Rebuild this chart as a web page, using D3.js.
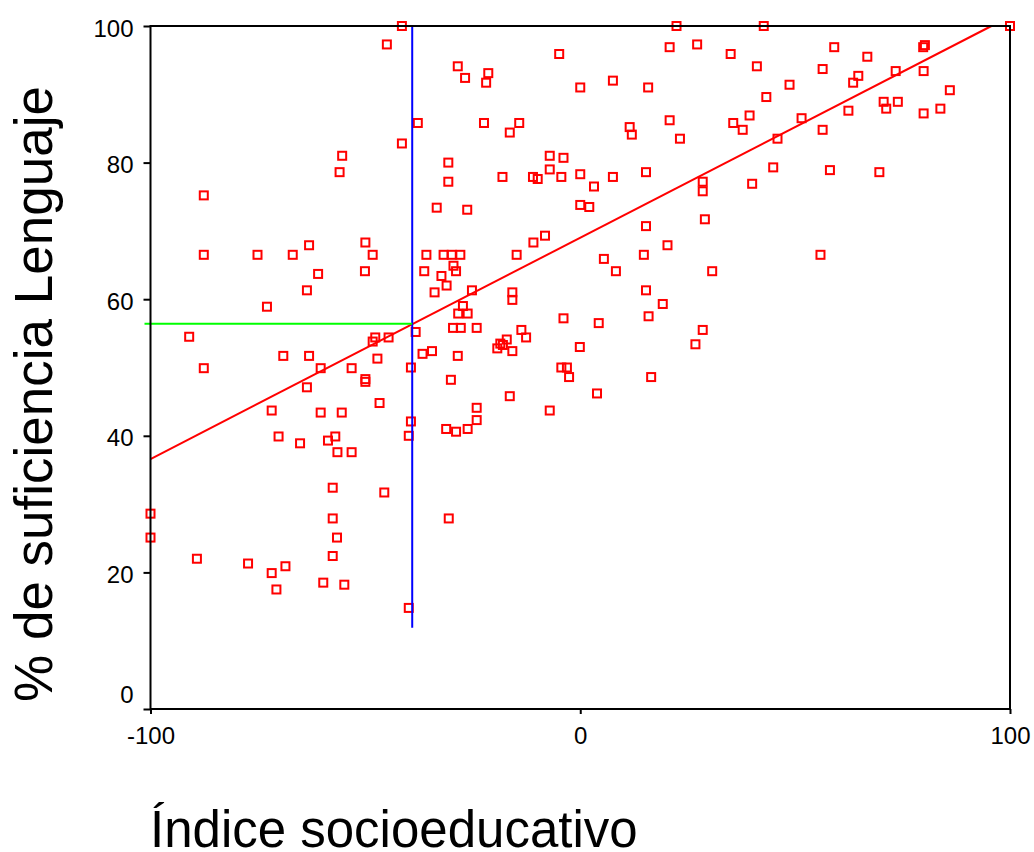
<!DOCTYPE html>
<html>
<head>
<meta charset="utf-8">
<script src="https://cdn.jsdelivr.net/npm/d3@7"></script>
<style>
  body { margin: 0; background: #fff; }
  text { font-family: "Liberation Sans", Arial, sans-serif; fill: #000; }
</style>
</head>
<body>
<div id="chart"></div>
<script>
// Índice socioeducativo (x) / % de suficiencia Lenguaje (y)
var indice = [
  -41.5, -45.0, -37.8, -41.5, -55.4, -56.0, -87.6, -87.6, -75.1, -66.9,
  -63.1, -50.0, -48.3, -35.8, -61.0, -50.1, -36.3, -63.6, -72.9, -91.0,
  -38.3, -47.7, -48.3, -44.6, -36.7, -69.1, -63.1, -47.2, -87.6, -60.4,
  -53.2, -39.4, -50.0, -50.0, -63.6, -46.7, -71.8, -60.4, -55.5, -39.4,
  -39.9, -70.2, -57.0, -65.2, -58.7, -56.5, -53.2, -57.6, -45.6, -100,
  -100, -57.6, -56.6, -57.6, -89.2, -77.3, -71.8, -68.6, -70.7, -59.8,
  -54.9, -39.9,
  22.4, 20.8, 27.2, -4.9, -28.5, -26.8, -21.4, -21.9, 0.0, 7.6,
  15.8, -22.4, -14.2, -16.4, 20.8, 11.5, 12.0, 23.2, -30.7, -30.7,
  -7.1, -3.9, -7.1, -18.1, -11.0, -9.9, -4.4, 0.0, 3.2, 7.6,
  15.3, -33.4, -26.3, 0.0, 2.1, 15.3, 20.3, -8.2, -10.9, -31.8,
  -29.9, -27.9, -14.8, 5.5, 14.8, 8.3, -32.3, -29.5, -28.9, -31.1,
  -33.9, -25.2, -15.8, -15.8, 15.3, 19.2, 15.9, -27.3, -28.4, -26.2,
  -3.9, 4.3, 26.8, -29.6, -27.8, -24.1, -13.7, -12.6, -17.1, -18.6,
  -19.3, -18.0, -15.8, -34.5, -28.5, -0.1, -4.4, -3.1, -2.6, 16.5,
  -30.1, -16.4, 3.9, -7.1, -24.1, -24.1, -31.2, -28.9, -26.2, -30.6,
  42.7, 35.0, 41.1, 59.1, 66.8, 56.4, 64.7, 63.5, 73.4, 79.9,
  80.2, 79.8, 48.7, 43.3, 86.0, 39.4, 35.6, 37.8, 51.5, 56.4,
  62.4, 70.6, 73.9, 71.2, 79.9, 83.8, 45.9, 44.9, 58.1, 69.6,
  40.0, 28.5, 28.5, 29.0, 55.9, 30.7, 28.5, 100
];
var suficiencia = [
  100, 97.3, 85.8, 82.8, 81.0, 78.6, 75.2, 66.5, 66.5, 66.5,
  67.9, 68.3, 66.5, 66.5, 63.7, 64.1, 64.1, 61.3, 58.9, 54.5,
  55.2, 54.4, 53.8, 54.4, 52.0, 51.7, 51.7, 51.3, 49.9, 49.9,
  49.9, 50.0, 48.3, 47.9, 47.1, 44.8, 43.7, 43.4, 43.4, 42.1,
  40.0, 39.9, 39.9, 38.9, 39.3, 37.6, 37.6, 32.4, 31.7, 28.6,
  25.1, 27.9, 25.1, 22.4, 22.0, 21.3, 19.9, 20.9, 17.5, 18.5,
  18.2, 14.8,
  100, 96.9, 97.3, 95.9, 94.1, 92.4, 93.1, 91.7, 91.0, 92.0,
  91.0, 85.8, 85.8, 84.4, 86.2, 85.2, 84.1, 83.5, 80.0, 77.2,
  81.0, 80.7, 79.0, 77.9, 77.9, 77.6, 77.9, 78.3, 76.5, 77.9,
  78.6, 73.4, 73.1, 73.8, 73.5, 70.7, 67.9, 69.3, 68.3, 66.5,
  66.5, 66.5, 66.5, 65.9, 66.5, 64.1, 63.4, 64.9, 64.1, 62.0,
  61.0, 61.3, 61.0, 59.9, 61.3, 59.3, 57.5, 59.0, 57.9, 57.9,
  57.2, 56.5, 53.4, 55.8, 55.8, 55.8, 55.5, 54.4, 54.1, 53.5,
  52.8, 53.3, 52.4, 52.4, 51.7, 53.0, 50.0, 50.0, 48.6, 48.6,
  48.2, 45.8, 46.2, 43.7, 44.1, 42.3, 41.0, 40.6, 41.0, 27.9,
  100, 95.9, 94.1, 96.9, 95.5, 93.7, 92.7, 91.7, 93.4, 93.4,
  97.2, 96.9, 91.4, 89.6, 90.6, 86.9, 85.8, 84.8, 86.5, 84.8,
  87.6, 88.9, 88.9, 87.9, 87.2, 87.9, 83.5, 79.3, 78.9, 78.6,
  76.9, 77.2, 75.8, 71.7, 66.5, 64.1, 55.5, 100
];

var xTicks = [-100, 0, 100];
var yTicks = [0, 20, 40, 60, 80, 100];

// linear fit drawn on the chart, and the marked reference point
var fitIntercept = 69.0, fitSlope = 0.324;
var refX = -39.1, refY = 56.4, refBottom = 11.9;

var width = 1034, height = 852;

var svg = d3.select('#chart').append('svg')
  .attr('width', width).attr('height', height);

var x = d3.scaleLinear().domain([-100, 100]).range([150.5, 1010]);
var y = d3.scaleLinear().domain([0, 100]).range([709, 26]);

// points
var pts = indice.map(function (d, i) { return [d, suficiencia[i]]; });
svg.append('g').selectAll('rect')
  .data(pts)
  .enter()
    .append('rect')
    .attr('x', function (d) { return x(d[0]) - 4; })
    .attr('y', function (d) { return y(d[1]) - 4; })
    .attr('width', 8).attr('height', 8)
    .style('fill', 'none')
    .style('stroke', '#ff0000')
    .style('stroke-width', 2);

// fit line, clipped at the top of the frame
var fitEnd = Math.min(100, (100 - fitIntercept) / fitSlope);
svg.append('line')
  .attr('x1', x(-100)).attr('y1', y(fitIntercept - 100 * fitSlope))
  .attr('x2', x(fitEnd)).attr('y2', y(fitIntercept + fitEnd * fitSlope))
  .style('stroke', '#ff0000').style('stroke-width', 2);

// reference lines
svg.append('line')
  .attr('x1', x(refX)).attr('y1', y(100))
  .attr('x2', x(refX)).attr('y2', y(refBottom))
  .style('stroke', '#0000ff').style('stroke-width', 2);
svg.append('line')
  .attr('x1', x(-100) - 6).attr('y1', y(refY))
  .attr('x2', x(refX)).attr('y2', y(refY))
  .style('stroke', '#00ff00').style('stroke-width', 2);

// frame
svg.append('rect')
  .attr('x', x(-100)).attr('y', y(100))
  .attr('width', x(100) - x(-100)).attr('height', y(0) - y(100))
  .style('fill', 'none').style('stroke', '#000').style('stroke-width', 2);

// axes (plain hyphen for negatives, as in the original)
var yAxis = svg.append('g')
  .attr('transform', 'translate(' + x(-100) + ',0)')
  .call(d3.axisLeft(y).tickValues(yTicks).tickFormat(String)
    .tickSize(7).tickPadding(10).tickSizeOuter(0));
var xAxis = svg.append('g')
  .attr('transform', 'translate(0,' + y(0) + ')')
  .call(d3.axisBottom(x).tickValues(xTicks).tickFormat(String)
    .tickSize(5).tickPadding(12.5).tickSizeOuter(0));

[yAxis, xAxis].forEach(function (a) {
  a.select('.domain').remove();
  a.selectAll('line').style('stroke', '#000').style('stroke-width', 2);
  a.selectAll('text')
    .style('font-family', '"Liberation Sans", Arial, sans-serif')
    .style('font-size', '24px')
    .style('fill', '#000');
});
yAxis.selectAll('text')
  .attr('y', function (d) { return d === 0 ? -14 : 2.5; });

// titles
svg.append('text')
  .attr('x', 150).attr('y', 847)
  .style('font-size', '51px')
  .text('Índice socioeducativo');
svg.append('text')
  .attr('transform', 'translate(52,394) rotate(-90)')
  .attr('text-anchor', 'middle')
  .style('font-size', '53px')
  .text('% de suficiencia Lenguaje');
</script>
</body>
</html>
